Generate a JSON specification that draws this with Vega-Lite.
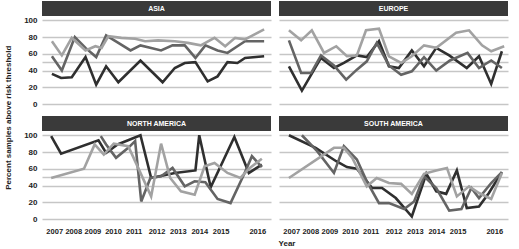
{
  "$schema": "https://vega.github.io/schema/vega-lite/v6.json",
  "background": "white",
  "padding": {"left": 4, "top": 1, "right": 0, "bottom": 0},
  "config": {
    "view": {"stroke": null},
    "font": "Liberation Sans, sans-serif",
    "header": {"labels": false, "title": null, "labelPadding": 0, "labelFontSize": 0, "titlePadding": 0},
    "axis": {"labelOverlap": false, "ticks": false, "domain": false, "labelFontSize": 8, "labelFontWeight": "bold", "labelColor": "#222", "title": null, "labelFont": "Liberation Sans, sans-serif"},
    "axisX": {"grid": false, "labelPadding": 5, "labelFlush": false, "labelFontSize": 7.5},
    "axisY": {"grid": true, "gridColor": "#c6c6c6", "gridWidth": 1.5, "labelPadding": 5}
  },
  "title": {"text": "Year", "orient": "bottom", "anchor": "middle", "fontSize": 8, "fontWeight": "bold", "color": "#222", "offset": 5, "dx": 30},
  "data": {"values": [
    {"region":"ASIA","s":"a","u":1.3,"v":36},{"region":"ASIA","s":"a","u":2.5,"v":31},{"region":"ASIA","s":"a","u":3.9,"v":32},{"region":"ASIA","s":"a","u":5.7,"v":56},{"region":"ASIA","s":"a","u":7.1,"v":23},{"region":"ASIA","s":"a","u":8.4,"v":45},{"region":"ASIA","s":"a","u":10,"v":26},{"region":"ASIA","s":"a","u":12.9,"v":52},{"region":"ASIA","s":"a","u":15.8,"v":26},{"region":"ASIA","s":"a","u":17.4,"v":43},{"region":"ASIA","s":"a","u":18.7,"v":49},{"region":"ASIA","s":"a","u":20.1,"v":50},{"region":"ASIA","s":"a","u":21.7,"v":27},{"region":"ASIA","s":"a","u":23,"v":33},{"region":"ASIA","s":"a","u":24.3,"v":50},{"region":"ASIA","s":"a","u":25.6,"v":49},{"region":"ASIA","s":"a","u":26.6,"v":55},{"region":"ASIA","s":"a","u":29.1,"v":57},
    {"region":"ASIA","s":"b","u":1.3,"v":57},{"region":"ASIA","s":"b","u":2.6,"v":40},{"region":"ASIA","s":"b","u":4.3,"v":80},{"region":"ASIA","s":"b","u":5.7,"v":67},{"region":"ASIA","s":"b","u":7.1,"v":56},{"region":"ASIA","s":"b","u":8.4,"v":82},{"region":"ASIA","s":"b","u":10,"v":73},{"region":"ASIA","s":"b","u":11.6,"v":64},{"region":"ASIA","s":"b","u":12.9,"v":70},{"region":"ASIA","s":"b","u":14.3,"v":67},{"region":"ASIA","s":"b","u":15.6,"v":64},{"region":"ASIA","s":"b","u":17.1,"v":70},{"region":"ASIA","s":"b","u":18.7,"v":70},{"region":"ASIA","s":"b","u":20.1,"v":55},{"region":"ASIA","s":"b","u":21.4,"v":70},{"region":"ASIA","s":"b","u":23,"v":64},{"region":"ASIA","s":"b","u":24.3,"v":61},{"region":"ASIA","s":"b","u":25.6,"v":69},{"region":"ASIA","s":"b","u":26.6,"v":75},{"region":"ASIA","s":"b","u":29.1,"v":75},
    {"region":"ASIA","s":"c","u":1.3,"v":75},{"region":"ASIA","s":"c","u":2.6,"v":58},{"region":"ASIA","s":"c","u":3.9,"v":79},{"region":"ASIA","s":"c","u":5.7,"v":64},{"region":"ASIA","s":"c","u":7,"v":69},{"region":"ASIA","s":"c","u":7.8,"v":67},{"region":"ASIA","s":"c","u":8.7,"v":81},{"region":"ASIA","s":"c","u":10.4,"v":79},{"region":"ASIA","s":"c","u":12.2,"v":78},{"region":"ASIA","s":"c","u":13.5,"v":75},{"region":"ASIA","s":"c","u":15.2,"v":76},{"region":"ASIA","s":"c","u":17.4,"v":75},{"region":"ASIA","s":"c","u":19.1,"v":73},{"region":"ASIA","s":"c","u":20.8,"v":70},{"region":"ASIA","s":"c","u":22.6,"v":79},{"region":"ASIA","s":"c","u":24,"v":69},{"region":"ASIA","s":"c","u":25.3,"v":79},{"region":"ASIA","s":"c","u":26.6,"v":77},{"region":"ASIA","s":"c","u":29.1,"v":89},
    {"region":"EUROPE","s":"a","u":1.3,"v":45},{"region":"EUROPE","s":"a","u":3,"v":16},{"region":"EUROPE","s":"a","u":5.5,"v":55},{"region":"EUROPE","s":"a","u":7.2,"v":43},{"region":"EUROPE","s":"a","u":8.5,"v":49},{"region":"EUROPE","s":"a","u":10.2,"v":58},{"region":"EUROPE","s":"a","u":11.5,"v":56},{"region":"EUROPE","s":"a","u":13.1,"v":75},{"region":"EUROPE","s":"a","u":14.4,"v":45},{"region":"EUROPE","s":"a","u":15.7,"v":43},{"region":"EUROPE","s":"a","u":17.4,"v":64},{"region":"EUROPE","s":"a","u":19,"v":45},{"region":"EUROPE","s":"a","u":20.6,"v":67},{"region":"EUROPE","s":"a","u":22.3,"v":58},{"region":"EUROPE","s":"a","u":24.6,"v":43},{"region":"EUROPE","s":"a","u":26.2,"v":57},{"region":"EUROPE","s":"a","u":27.8,"v":24},{"region":"EUROPE","s":"a","u":29.2,"v":63},
    {"region":"EUROPE","s":"b","u":1.3,"v":76},{"region":"EUROPE","s":"b","u":2.9,"v":37},{"region":"EUROPE","s":"b","u":4.2,"v":37},{"region":"EUROPE","s":"b","u":5.5,"v":58},{"region":"EUROPE","s":"b","u":7.2,"v":46},{"region":"EUROPE","s":"b","u":8.8,"v":29},{"region":"EUROPE","s":"b","u":10.2,"v":41},{"region":"EUROPE","s":"b","u":11.5,"v":51},{"region":"EUROPE","s":"b","u":12.8,"v":73},{"region":"EUROPE","s":"b","u":14.4,"v":46},{"region":"EUROPE","s":"b","u":16,"v":35},{"region":"EUROPE","s":"b","u":17.4,"v":39},{"region":"EUROPE","s":"b","u":19,"v":56},{"region":"EUROPE","s":"b","u":20.6,"v":40},{"region":"EUROPE","s":"b","u":22.4,"v":52},{"region":"EUROPE","s":"b","u":24.7,"v":61},{"region":"EUROPE","s":"b","u":26.2,"v":43},{"region":"EUROPE","s":"b","u":27.8,"v":52},{"region":"EUROPE","s":"b","u":29.2,"v":43},
    {"region":"EUROPE","s":"c","u":1.3,"v":88},{"region":"EUROPE","s":"c","u":2.9,"v":76},{"region":"EUROPE","s":"c","u":4.3,"v":88},{"region":"EUROPE","s":"c","u":5.9,"v":61},{"region":"EUROPE","s":"c","u":7.5,"v":69},{"region":"EUROPE","s":"c","u":8.9,"v":57},{"region":"EUROPE","s":"c","u":10.2,"v":58},{"region":"EUROPE","s":"c","u":11.4,"v":88},{"region":"EUROPE","s":"c","u":13.1,"v":90},{"region":"EUROPE","s":"c","u":14.4,"v":57},{"region":"EUROPE","s":"c","u":16,"v":49},{"region":"EUROPE","s":"c","u":17.4,"v":57},{"region":"EUROPE","s":"c","u":19,"v":70},{"region":"EUROPE","s":"c","u":20.6,"v":67},{"region":"EUROPE","s":"c","u":23.2,"v":85},{"region":"EUROPE","s":"c","u":24.9,"v":88},{"region":"EUROPE","s":"c","u":26.6,"v":70},{"region":"EUROPE","s":"c","u":27.8,"v":63},{"region":"EUROPE","s":"c","u":29.5,"v":69},
    {"region":"NORTH AMERICA","s":"a","u":1.2,"v":99},{"region":"NORTH AMERICA","s":"a","u":2.5,"v":78},{"region":"NORTH AMERICA","s":"a","u":7.4,"v":94},{"region":"NORTH AMERICA","s":"a","u":8.4,"v":79},{"region":"NORTH AMERICA","s":"a","u":9.9,"v":89},{"region":"NORTH AMERICA","s":"a","u":12.9,"v":100},{"region":"NORTH AMERICA","s":"a","u":14.3,"v":49},{"region":"NORTH AMERICA","s":"a","u":17.4,"v":55},{"region":"NORTH AMERICA","s":"a","u":20.1,"v":58},{"region":"NORTH AMERICA","s":"a","u":20.6,"v":100},{"region":"NORTH AMERICA","s":"a","u":22.1,"v":38},{"region":"NORTH AMERICA","s":"a","u":25.2,"v":98},{"region":"NORTH AMERICA","s":"a","u":27.1,"v":55},{"region":"NORTH AMERICA","s":"a","u":28.8,"v":65},
    {"region":"NORTH AMERICA","s":"b","u":7.7,"v":99},{"region":"NORTH AMERICA","s":"b","u":8.4,"v":89},{"region":"NORTH AMERICA","s":"b","u":9.7,"v":73},{"region":"NORTH AMERICA","s":"b","u":11.3,"v":85},{"region":"NORTH AMERICA","s":"b","u":12.2,"v":93},{"region":"NORTH AMERICA","s":"b","u":13,"v":21},{"region":"NORTH AMERICA","s":"b","u":14.2,"v":49},{"region":"NORTH AMERICA","s":"b","u":15.6,"v":51},{"region":"NORTH AMERICA","s":"b","u":17.1,"v":61},{"region":"NORTH AMERICA","s":"b","u":18.7,"v":39},{"region":"NORTH AMERICA","s":"b","u":20,"v":45},{"region":"NORTH AMERICA","s":"b","u":21.4,"v":44},{"region":"NORTH AMERICA","s":"b","u":23,"v":24},{"region":"NORTH AMERICA","s":"b","u":24.7,"v":19},{"region":"NORTH AMERICA","s":"b","u":26.5,"v":54},{"region":"NORTH AMERICA","s":"b","u":27.5,"v":75},{"region":"NORTH AMERICA","s":"b","u":28.8,"v":62},
    {"region":"NORTH AMERICA","s":"c","u":1.2,"v":49},{"region":"NORTH AMERICA","s":"c","u":5.5,"v":60},{"region":"NORTH AMERICA","s":"c","u":6.9,"v":89},{"region":"NORTH AMERICA","s":"c","u":8.1,"v":77},{"region":"NORTH AMERICA","s":"c","u":9.4,"v":90},{"region":"NORTH AMERICA","s":"c","u":11.3,"v":87},{"region":"NORTH AMERICA","s":"c","u":12.3,"v":67},{"region":"NORTH AMERICA","s":"c","u":14.3,"v":27},{"region":"NORTH AMERICA","s":"c","u":15.6,"v":90},{"region":"NORTH AMERICA","s":"c","u":16.8,"v":49},{"region":"NORTH AMERICA","s":"c","u":18.2,"v":33},{"region":"NORTH AMERICA","s":"c","u":20,"v":29},{"region":"NORTH AMERICA","s":"c","u":21.3,"v":63},{"region":"NORTH AMERICA","s":"c","u":22.6,"v":67},{"region":"NORTH AMERICA","s":"c","u":24.3,"v":55},{"region":"NORTH AMERICA","s":"c","u":26,"v":49},{"region":"NORTH AMERICA","s":"c","u":27.1,"v":60},{"region":"NORTH AMERICA","s":"c","u":28.8,"v":72},
    {"region":"SOUTH AMERICA","s":"a","u":1.3,"v":100},{"region":"SOUTH AMERICA","s":"a","u":4.8,"v":85},{"region":"SOUTH AMERICA","s":"a","u":7.5,"v":69},{"region":"SOUTH AMERICA","s":"a","u":8.9,"v":62},{"region":"SOUTH AMERICA","s":"a","u":10.2,"v":60},{"region":"SOUTH AMERICA","s":"a","u":12.2,"v":37},{"region":"SOUTH AMERICA","s":"a","u":13.5,"v":37},{"region":"SOUTH AMERICA","s":"a","u":15.3,"v":25},{"region":"SOUTH AMERICA","s":"a","u":17.4,"v":3},{"region":"SOUTH AMERICA","s":"a","u":19.3,"v":54},{"region":"SOUTH AMERICA","s":"a","u":20.6,"v":33},{"region":"SOUTH AMERICA","s":"a","u":21.9,"v":30},{"region":"SOUTH AMERICA","s":"a","u":23.3,"v":58},{"region":"SOUTH AMERICA","s":"a","u":24.6,"v":13},{"region":"SOUTH AMERICA","s":"a","u":26.2,"v":15},{"region":"SOUTH AMERICA","s":"a","u":27.5,"v":31},{"region":"SOUTH AMERICA","s":"a","u":29.2,"v":56},
    {"region":"SOUTH AMERICA","s":"b","u":3,"v":100},{"region":"SOUTH AMERICA","s":"b","u":5,"v":81},{"region":"SOUTH AMERICA","s":"b","u":7.2,"v":55},{"region":"SOUTH AMERICA","s":"b","u":8.5,"v":87},{"region":"SOUTH AMERICA","s":"b","u":10.2,"v":71},{"region":"SOUTH AMERICA","s":"b","u":11.5,"v":45},{"region":"SOUTH AMERICA","s":"b","u":13.1,"v":19},{"region":"SOUTH AMERICA","s":"b","u":14.4,"v":19},{"region":"SOUTH AMERICA","s":"b","u":16.4,"v":12},{"region":"SOUTH AMERICA","s":"b","u":17.7,"v":21},{"region":"SOUTH AMERICA","s":"b","u":19,"v":51},{"region":"SOUTH AMERICA","s":"b","u":20.6,"v":37},{"region":"SOUTH AMERICA","s":"b","u":22.3,"v":10},{"region":"SOUTH AMERICA","s":"b","u":23.9,"v":12},{"region":"SOUTH AMERICA","s":"b","u":25.2,"v":37},{"region":"SOUTH AMERICA","s":"b","u":26.2,"v":25},{"region":"SOUTH AMERICA","s":"b","u":27.8,"v":43},{"region":"SOUTH AMERICA","s":"b","u":29.2,"v":56},
    {"region":"SOUTH AMERICA","s":"c","u":1.3,"v":49},{"region":"SOUTH AMERICA","s":"c","u":7.2,"v":85},{"region":"SOUTH AMERICA","s":"c","u":8.5,"v":85},{"region":"SOUTH AMERICA","s":"c","u":9.6,"v":73},{"region":"SOUTH AMERICA","s":"c","u":11.5,"v":39},{"region":"SOUTH AMERICA","s":"c","u":12.8,"v":49},{"region":"SOUTH AMERICA","s":"c","u":14.4,"v":43},{"region":"SOUTH AMERICA","s":"c","u":16,"v":42},{"region":"SOUTH AMERICA","s":"c","u":17.4,"v":30},{"region":"SOUTH AMERICA","s":"c","u":19,"v":54},{"region":"SOUTH AMERICA","s":"c","u":20.6,"v":58},{"region":"SOUTH AMERICA","s":"c","u":22,"v":61},{"region":"SOUTH AMERICA","s":"c","u":23.3,"v":27},{"region":"SOUTH AMERICA","s":"c","u":24.9,"v":39},{"region":"SOUTH AMERICA","s":"c","u":26.2,"v":31},{"region":"SOUTH AMERICA","s":"c","u":27.8,"v":24},{"region":"SOUTH AMERICA","s":"c","u":29.2,"v":55}
  ]},
  "vconcat": [
    {
      "title": {"text": "Percent samples above risk threshold", "orient": "left", "anchor": "middle", "fontSize": 8, "fontWeight": "bold", "color": "#222", "offset": 11},
      "columns": 2,
      "spacing": {"column": 6, "row": 9},
      "facet": {"field": "region", "type": "nominal", "sort": ["ASIA", "EUROPE", "NORTH AMERICA", "SOUTH AMERICA"], "header": {"title": null, "labels": false}},
      "spec": {
        "width": 229,
        "height": 103,
        "layer": [
          {
            "mark": {"type": "line", "strokeWidth": 2.6, "strokeJoin": "miter"},
            "encoding": {
              "x": {"field": "u", "type": "quantitative",
                    "scale": {"domain": [0, 30], "nice": false, "zero": false},
                    "axis": {"values": [1.6, 4.1, 6.6, 9.3, 12, 15, 17.8, 20.6, 23.4, 28.2],
                             "labelExpr": "datum.value < 3 ? '2007' : datum.value < 5 ? '2008' : datum.value < 8 ? '2009' : datum.value < 10 ? '2010' : datum.value < 13 ? '2011' : datum.value < 16 ? '2012' : datum.value < 19 ? '2013' : datum.value < 22 ? '2014' : datum.value < 25 ? '2015' : '2016'"}},
              "y": {"field": "v", "type": "quantitative",
                    "scale": {"domain": [0, 123], "nice": false, "zero": true},
                    "axis": {"values": [0, 20, 40, 50, 60, 80, 100],
                             "labelExpr": "datum.value == 50 ? '' : datum.label"}},
              "color": {"field": "s", "type": "nominal", "legend": null,
                        "scale": {"domain": ["a", "b", "c"], "range": ["#2f2f2f", "#646464", "#a2a2a2"]}},
              "detail": {"field": "s"}
            }
          },
          {
            "transform": [{"aggregate": [{"op": "count", "as": "n"}], "groupby": ["region"]}],
            "mark": {"type": "rect", "color": "#3a3a3a"},
            "encoding": {
              "x": {"datum": 0, "type": "quantitative",
                    "axis": {"values": [1.6, 4.1, 6.6, 9.3, 12, 15, 17.8, 20.6, 23.4, 28.2],
                             "labelExpr": "datum.value < 3 ? '2007' : datum.value < 5 ? '2008' : datum.value < 8 ? '2009' : datum.value < 10 ? '2010' : datum.value < 13 ? '2011' : datum.value < 16 ? '2012' : datum.value < 19 ? '2013' : datum.value < 22 ? '2014' : datum.value < 25 ? '2015' : '2016'"}},
              "x2": {"datum": 30},
              "y": {"datum": 105, "type": "quantitative",
                    "axis": {"values": [0, 20, 40, 50, 60, 80, 100],
                             "labelExpr": "datum.value == 50 ? '' : datum.label"}},
              "y2": {"datum": 123}
            }
          },
          {
            "transform": [{"aggregate": [{"op": "count", "as": "n"}], "groupby": ["region"]}],
            "mark": {"type": "text", "color": "white", "fontSize": 7, "fontWeight": "bold", "baseline": "middle", "align": "center", "font": "Liberation Sans, sans-serif"},
            "encoding": {
              "x": {"datum": 15, "type": "quantitative",
                    "axis": {"values": [1.6, 4.1, 6.6, 9.3, 12, 15, 17.8, 20.6, 23.4, 28.2],
                             "labelExpr": "datum.value < 3 ? '2007' : datum.value < 5 ? '2008' : datum.value < 8 ? '2009' : datum.value < 10 ? '2010' : datum.value < 13 ? '2011' : datum.value < 16 ? '2012' : datum.value < 19 ? '2013' : datum.value < 22 ? '2014' : datum.value < 25 ? '2015' : '2016'"}},
              "y": {"datum": 114, "type": "quantitative",
                    "axis": {"values": [0, 20, 40, 50, 60, 80, 100],
                             "labelExpr": "datum.value == 50 ? '' : datum.label"}},
              "text": {"field": "region"}
            }
          }
        ]
      }
    }
  ]
}
